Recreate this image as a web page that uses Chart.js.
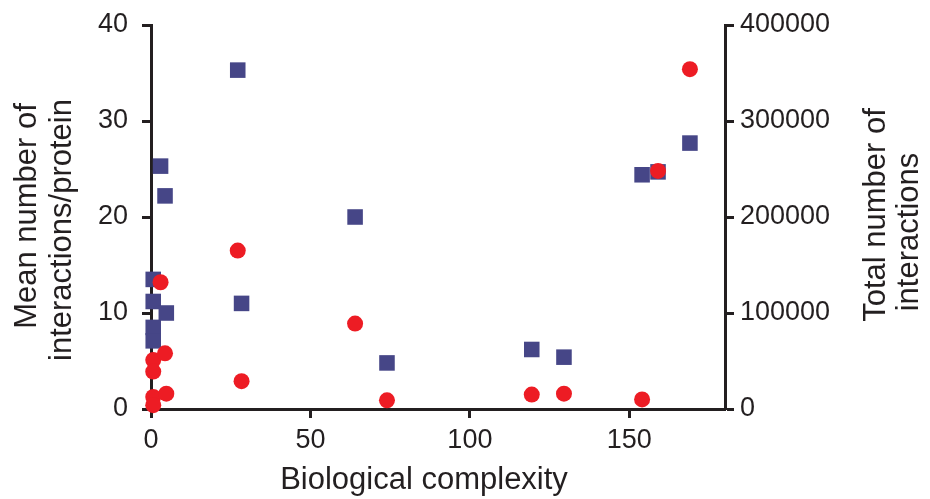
<!DOCTYPE html>
<html>
<head>
<meta charset="utf-8">
<script src="https://cdn.jsdelivr.net/npm/chart.js@4"></script>
<style>
  html, body { margin: 0; padding: 0; background: #fff; }
  #wrap { width: 930px; height: 499px; }
</style>
</head>
<body>
<div id="wrap"><canvas id="complexityChart"></canvas></div>
<script>
// values
let complexity = [0.7, 0.7, 0.7, 0.7, 3, 4.4, 4.8, 27.2, 28.4, 64, 74, 119.4, 129.5, 154, 159, 169];
let meanPerProtein = [13.5, 11.2, 8.5, 7.1, 25.3, 22.2, 10.0, 35.3, 11.0, 20.0, 4.8, 6.2, 5.4, 24.4, 24.7, 27.7];
let totalInteractions = [51000, 39000, 12600, 4000, 132000, 58000, 16000, 165000, 29000, 89000, 9000, 15000, 16000, 10000, 248000, 354000];

let xTicks = [0, 50, 100, 150];
let leftTitle = ['Mean number of', 'interactions/protein'];
let rightTitle = ['Total number of', 'interactions'];
let bottomTitle = 'Biological complexity';

let ink = '#231f20';
let blue = '#464687';
let red = '#ed1c24';
let fontFamily = "'Liberation Sans', Arial, Helvetica, sans-serif";

function toPoints(xs, ys){
    return xs.map((x, i) => ({x: x, y: ys[i]}));
}

// axis titles drawn by hand: the right one reads bottom-to-top like the left
const axisTitles = {
    id: 'axisTitles',
    afterDraw(chart){
        let ctx = chart.ctx;
        ctx.save();
        ctx.fillStyle = ink;
        ctx.font = '31px ' + fontFamily;
        ctx.textAlign = 'center';
        ctx.textBaseline = 'alphabetic';
        // [text, baseline x, centre y]
        let rotated = [
            [leftTitle[0], 36, 216],
            [leftTitle[1], 71, 230],
            [rightTitle[0], 885, 215],
            [rightTitle[1], 918, 232]
        ];
        rotated.forEach(([t, x, y]) => {
            ctx.save();
            ctx.translate(x, y);
            ctx.rotate(-Math.PI / 2);
            ctx.fillText(t, 0, 0);
            ctx.restore();
        });
        ctx.fillText(bottomTitle, 424, 489);
        ctx.restore();
    }
};

let axisGrid = {
    display: true,
    drawOnChartArea: false,
    drawTicks: true,
    tickLength: 9,
    tickWidth: 3,
    tickColor: ink
};
let axisBorder = { display: true, width: 3, color: ink };
let tickFont = { family: fontFamily, size: 27 };

// fixed axis sizes so the plot area sits where the original one does
function fixWidth(w){
    return (scale) => {
        scale.width = w;
        scale.paddingTop = 0;
        scale.paddingBottom = 0;
    };
}

new Chart(document.getElementById('complexityChart'), {
    type: 'scatter',
    data: {
        datasets: [{
            label: 'Total number of interactions',
            data: toPoints(complexity, totalInteractions),
            yAxisID: 'yRight',
            pointStyle: 'circle',
            pointRadius: 8,
            pointHoverRadius: 8,
            pointBorderWidth: 0,
            backgroundColor: red,
            borderColor: red,
            clip: false,
            order: 0
        }, {
            label: 'Mean number of interactions/protein',
            data: toPoints(complexity, meanPerProtein),
            yAxisID: 'yLeft',
            pointStyle: 'rect',
            pointRadius: 11,
            pointHoverRadius: 11,
            pointBorderWidth: 0,
            backgroundColor: blue,
            borderColor: blue,
            clip: false,
            order: 1
        }]
    },
    plugins: [axisTitles],
    options: {
        responsive: true,
        maintainAspectRatio: false,
        animation: false,
        layout: { padding: { top: 25, left: 0, right: 0, bottom: 0 } },
        plugins: {
            legend: { display: false },
            tooltip: { enabled: false }
        },
        scales: {
            x: {
                type: 'linear',
                min: 0,
                max: 180,
                afterFit: (scale) => {
                    scale.height = 90;
                    scale.paddingLeft = 0;
                    scale.paddingRight = 0;
                },
                afterBuildTicks: (scale) => { scale.ticks = xTicks.map(v => ({value: v})); },
                grid: axisGrid,
                border: axisBorder,
                ticks: { color: ink, font: tickFont, padding: 6, maxRotation: 0 }
            },
            yLeft: {
                type: 'linear',
                position: 'left',
                min: 0,
                max: 40,
                afterFit: fixWidth(151),
                grid: axisGrid,
                border: axisBorder,
                ticks: { stepSize: 10, color: ink, font: tickFont, padding: 14 }
            },
            yRight: {
                type: 'linear',
                position: 'right',
                min: 0,
                max: 400000,
                afterFit: fixWidth(205),
                grid: axisGrid,
                border: axisBorder,
                ticks: {
                    stepSize: 100000,
                    color: ink,
                    font: tickFont,
                    padding: 6,
                    callback: (v) => String(v)
                }
            }
        }
    }
});
</script>
</body>
</html>
